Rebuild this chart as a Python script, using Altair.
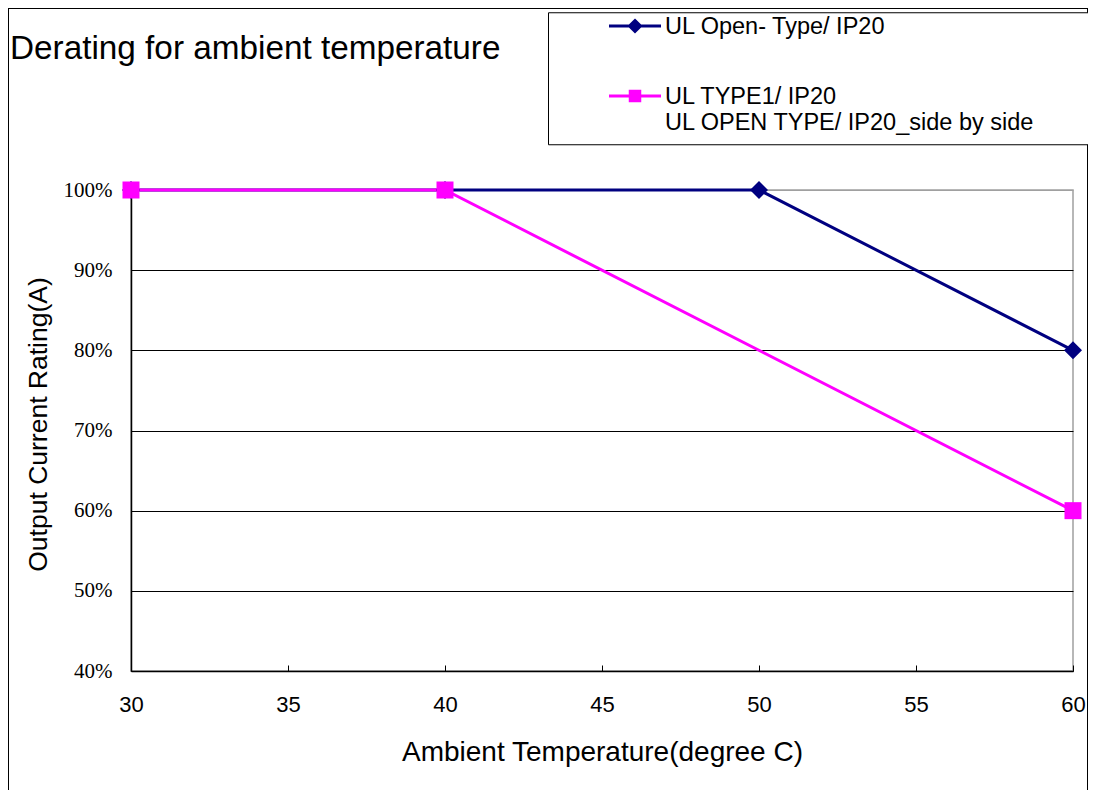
import altair as alt
import pandas as pd

# ---------------- data ----------------
temps_open = [30, 40, 50, 60]
rating_open = [1.00, 1.00, 1.00, 0.80]
temps_type1 = [30, 40, 60]
rating_type1 = [1.00, 1.00, 0.60]
series_names = ["UL Open- Type/ IP20",
                "UL TYPE1/ IP20\nUL OPEN TYPE/ IP20_side by side"]
series_colors = ["#000080", "#FF00FF"]
x_ticks = [30, 35, 40, 45, 50, 55, 60]
y_ticks = [0.4, 0.5, 0.6, 0.7, 0.8, 0.9, 1.0]
chart_title = "Derating for ambient temperature"
x_title = "Ambient Temperature(degree C)"
y_title = "Output Current Rating(A)"

rows = (
    [{"temp": t, "rating": v, "series": series_names[0]} for t, v in zip(temps_open, rating_open)]
    + [{"temp": t, "rating": v, "series": series_names[1]} for t, v in zip(temps_type1, rating_type1)]
)
df = pd.DataFrame(rows)

# ---------------- layout ----------------
W, H = 942, 481
PAD_L, PAD_T = 123, 182
SANS = "Liberation Sans"
SERIF = "Liberation Serif"

# legend symbols: line with marker; symbolSize 4 -> 1 path unit = 1 px
SHIFT = -8            # symbol centre relative to label baseline
HALF_LINE = 26        # half length of legend line
LEFT_EXT = -75        # extends legend box to the left of the symbol
RIGHT_EXT = 437       # extends legend box to the right


def diamond(a):
    return f"M0,{SHIFT - a}L{a},{SHIFT}L0,{SHIFT + a}L{-a},{SHIFT}Z"


def square(h):
    return f"M{-h},{SHIFT - h}L{h},{SHIFT - h}L{h},{SHIFT + h}L{-h},{SHIFT + h}Z"


line_path = f"M{LEFT_EXT},{SHIFT}M{RIGHT_EXT},{SHIFT}M{-HALF_LINE},{SHIFT}L{HALF_LINE},{SHIFT}"
legend_shapes = [line_path + diamond(5.5) + diamond(1.4),
                 line_path + square(4.75) + square(1.75)]

x_scale = alt.Scale(domain=[30, 60], nice=False, zero=False)
y_scale = alt.Scale(domain=[0.4, 1.0], nice=False, zero=False)
color_scale = alt.Scale(domain=series_names, range=series_colors)
shape_scale = alt.Scale(domain=series_names, range=legend_shapes)

base = alt.Chart(df)

x_axis = alt.Axis(values=x_ticks, labelFont=SANS, labelFontSize=22, labelColor="black",
                  labelPadding=23, ticks=False, domainColor="black", domainWidth=1.5,
                  grid=False, labelFlush=False, title=x_title, titleFont=SANS,
                  titleFontSize=28, titleFontWeight="normal", titleColor="black",
                  titleBaseline="alphabetic", titleAlign="center", titleX=W / 2, titleY=89)
y_axis = alt.Axis(values=y_ticks, format=".0%", labelFont=SERIF, labelFontSize=21,
                  labelColor="black", labelPadding=19, ticks=False, domainColor="black",
                  domainWidth=1.5, grid=True,
                  gridColor={"condition": {"test": "datum.value >= 0.999", "value": "#a0a0a0"},
                             "value": "black"},
                  gridWidth=1, title=y_title, titleFont=SANS, titleFontSize=26.5,
                  titleFontWeight="normal", titleColor="black", titleAngle=-90,
                  titleBaseline="alphabetic", titleAlign="center", titleX=-85, titleY=234)

frame = base.mark_rect(fill="white", fillOpacity=0, stroke="black", strokeWidth=1).encode(
    x=alt.value(-PAD_L + 0.5), x2=alt.value(W + 14.5),
    y=alt.value(-PAD_T + 0.5), y2=alt.value(H + 140),
)

legend_def = dict(title=None, orient="none", legendX=417, legendY=-177.75,
                  direction="vertical", labelFont=SANS, labelFontSize=23.5,
                  labelColor="black", labelBaseline="alphabetic", labelOffset=18.25,
                  labelLimit=0, symbolSize=4, symbolStrokeWidth=3, symbolOffset=65.25,
                  symbolOpacity=1, padding=10, strokeColor="black", fillColor="white",
                  rowPadding=45, labelExpr="split(datum.label, '\\n')")

legend_layer = base.transform_filter("datum.temp < 0").mark_point(
    strokeWidth=3, opacity=1).encode(
    x=alt.X("temp:Q", scale=x_scale, axis=None),
    y=alt.Y("rating:Q", scale=y_scale),
    color=alt.Color("series:N", scale=color_scale, legend=alt.Legend(**legend_def)),
    shape=alt.Shape("series:N", scale=shape_scale, legend=alt.Legend(**legend_def)),
)

lines = base.mark_line(strokeWidth=3).encode(
    x=alt.X("temp:Q", scale=x_scale, axis=x_axis),
    y=alt.Y("rating:Q", scale=y_scale, axis=y_axis),
    color=alt.Color("series:N", scale=color_scale, legend=None),
    order="temp:Q",
)

pts_open = base.transform_filter(alt.datum.series == series_names[0]).mark_point(
    shape="diamond", filled=True, size=324, opacity=1, color=series_colors[0]).encode(
    x=alt.X("temp:Q", scale=x_scale, axis=None),
    y=alt.Y("rating:Q", scale=y_scale),
)
pts_t1 = base.transform_filter(alt.datum.series == series_names[1]).mark_point(
    shape="square", filled=True, size=289, opacity=1, color=series_colors[1]).encode(
    x=alt.X("temp:Q", scale=x_scale, axis=None),
    y=alt.Y("rating:Q", scale=y_scale),
)

tick_layer = base.mark_point(opacity=0).encode(
    x=alt.X("temp:Q", scale=x_scale,
            axis=alt.Axis(orient="top", offset=-H, values=x_ticks, labels=False, domain=False,
                          ticks=True, tickSize=6, tickColor="black", tickWidth=1,
                          grid=False, title=None)),
    y=alt.Y("rating:Q", scale=y_scale),
)

chart = alt.layer(frame, legend_layer, lines, pts_open, pts_t1, tick_layer).resolve_axis(
    x="independent"
).properties(
    width=W, height=H,
    title=alt.TitleParams(chart_title, anchor="start", frame="group", font=SANS, fontSize=33.3,
                          fontWeight="normal", color="black", baseline="alphabetic",
                          dx=-121, dy=84, offset=0),
    autosize=alt.AutoSizeParams(type="none"),
    padding={"left": PAD_L, "top": PAD_T, "right": 15, "bottom": 119},
    background="white",
).configure_view(stroke="#a0a0a0", strokeWidth=1.5)

chart.save("out.html", embed_options={"renderer": "svg", "actions": False})
